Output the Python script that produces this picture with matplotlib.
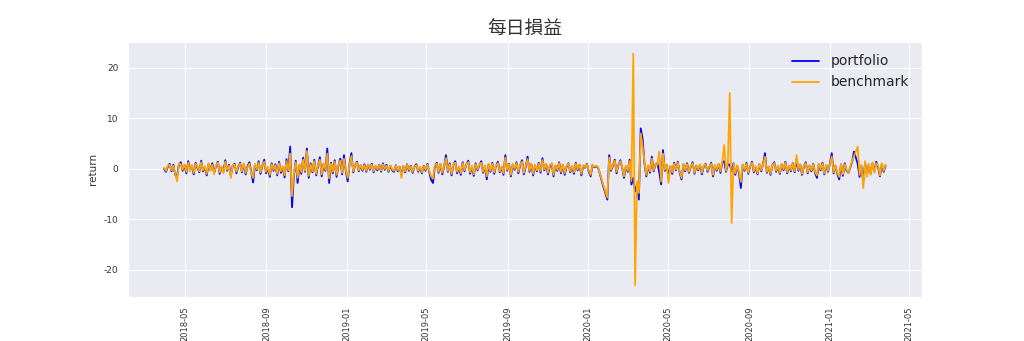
import matplotlib
matplotlib.use("Agg")
import matplotlib.pyplot as plt
import matplotlib.dates as mdates
import seaborn as sns
import pandas as pd

start_date = "2018-03-30"
end_date = "2021-03-26"

portfolio = [
    0.0, -0.6, 0.4, 1.0, -0.5, 0.8, -1.2, -1.5, 0.9, 1.3, -0.4, 0.7, -0.9, 1.5, -0.3, 0.6, -1.1, 1.2, 0.2, -0.7,
    1.6, -0.5, 0.3, -1.3, 0.9, -0.2, 1.1, -0.8, 0.5, 1.4, -1.0, 0.3, -0.6, 1.7, -0.4, 0.8, -1.4, 0.6, 1.0, -0.9,
    0.4, 1.2, -0.7, 0.9, -1.1, 0.5, 1.3, -0.6, -2.7, 0.8, -0.3, 1.5, -1.0, 0.6, 1.8, -0.9, 0.2, -1.6, 1.1, -0.4,
    0.9, -1.3, 1.4, -0.8, 0.3, -1.7, 1.9, -0.5, 4.4, -7.6, -1.2, 1.6, -2.8, 0.7, -1.0, 2.2, -0.6, 4.0, -1.8, 1.1,
    -0.7, 1.8, -1.3, 0.5, 2.3, -1.5, 0.9, -0.4, 4.0, -2.8, 1.2, -0.9, 1.7, -1.6, 0.6, 2.0, -1.1, 2.7, -0.5, -2.5,
    1.0, 3.1, -0.7, 0.6, 1.4, -0.5, 0.7, -0.4, 0.9, -0.6, 0.8, -0.2, 1.0, -0.7, 0.5, -0.3, 0.8, -0.6, 1.1, -0.2,
    0.8, -0.6, 0.6, -0.3, -0.6, 0.7, -0.5, 0.4, -1.2, 0.5, -0.7, 0.9, -0.4, 0.6, -0.8, 0.4, 0.9, -0.6, 0.3, -0.9,
    0.6, -0.4, 1.0, -0.7, -2.2, -2.8, 0.5, 1.2, -0.8, 0.9, -1.1, 0.4, 2.7, -0.6, 1.1, -1.3, 0.8, 1.5, -0.9, 0.3,
    -1.2, 1.3, -0.5, 0.9, 1.6, -1.0, 0.4, -1.4, 1.1, -0.3, 0.7, 1.5, -0.8, 0.5, -2.1, 0.9, -0.6, 1.2, -1.0, 0.6,
    1.4, -0.7, 0.3, -1.2, 2.7, -0.4, 1.0, -1.5, 0.8, -0.2, 1.3, -0.9, 0.6, 1.7, -1.1, 0.4, 2.4, -0.6, 0.9, -1.3,
    0.7, -0.5, 1.2, -0.8, 2.1, -0.3, 0.9, -1.1, 0.5, 1.0, -1.5, 0.6, -0.4, 1.3, -0.9, 0.8, -1.2, 0.4, 1.1, -0.7,
    0.5, -1.0, 1.2, -0.3, 0.8, -1.3, 0.6, 0.2, 1.0, -0.6, -1.5, 0.7, 0.3, 0.5, 0.2, -1.0, -2.4, -3.7, -4.9, -6.1,
    2.7, -0.4, 0.6, 1.8, -0.9, 0.8, 1.7, 0.2, -1.8, 0.5, -0.6, 1.8, -3.1, -1.8, -4.5, -3.2, -6.1, 8.0, 6.0, 1.2,
    -1.5, 0.6, -0.8, 2.4, -0.5, 0.9, 1.1, -0.7, -3.1, 3.7, -0.4, 0.8, -1.6, 0.5, -1.0, 1.2, -0.3, 1.4, -0.8, -2.1,
    0.9, -0.5, 1.1, -0.8, 0.4, 1.3, -1.0, 0.6, -0.3, 0.8, -1.1, 0.5, 1.0, -0.6, 0.3, 1.2, -1.5, 0.7, -0.4, 0.9,
    -0.8, 1.3, 1.5, -0.6, 0.9, 0.8, -0.5, 1.1, -1.2, 0.6, -0.9, -3.8, 0.8, -0.4, 1.2, -1.0, 0.5, 1.4, -0.7, 0.3,
    -1.1, 0.9, -0.5, 1.0, 3.1, -0.8, 0.4, -1.2, 0.7, 1.3, -0.6, 0.5, -1.0, 0.9, -0.3, 1.4, -0.9, 0.6, -0.5, 1.1,
    -0.7, 1.9, -0.4, 0.8, -1.2, 0.5, 1.3, -0.9, 0.6, -0.5, 1.0, -0.8, -1.8, 0.9, -0.3, 1.2, -1.1, 0.7, -0.6, 1.0,
    3.1, -0.9, 0.6, -1.0, -2.1, 0.9, -1.4, 1.1, -0.4, -0.8, 0.3, 1.4, 3.4, 2.2, 1.0, -1.6, 0.5, -2.6, 1.2, -1.3,
    0.8, -0.9, 1.1, -0.5, 1.4, 0.3, -1.5, 0.9, -0.6, 0.6,
]

benchmark = [
    0.2, -0.4, 0.6, 0.8, -0.3, 0.6, -0.9, -2.5, 1.1, 0.9, -0.2, 0.9, -0.6, 1.2, -0.5, 0.8, -0.8, 1.0, 0.4, -0.5,
    1.3, -0.3, 0.5, -1.0, 1.1, -0.4, 0.8, -1.1, 0.7, 1.2, -0.7, 0.5, -0.9, 1.4, -0.2, 0.6, -1.8, 0.8, 0.8, -0.6,
    0.6, 1.0, -0.5, 1.1, -0.8, 0.3, 1.0, -0.9, -1.8, 1.0, -0.1, 1.2, -0.7, 0.8, 1.4, -0.6, 0.4, -1.2, 0.9, -0.2,
    0.7, -1.0, 1.1, -0.5, 0.5, -1.3, 1.5, -0.3, 3.0, -5.4, -0.8, 1.3, -1.8, 0.9, -0.7, 1.8, -0.4, 3.5, -1.4, 0.9,
    -0.5, 1.5, -1.0, 0.7, 1.8, -1.1, 1.1, -0.2, 3.0, -1.9, 1.0, -0.6, 1.4, -1.2, 0.8, 1.6, -0.8, 2.0, -0.3, -1.8,
    0.8, 2.5, -0.5, 0.7, 1.2, -0.3, 0.8, -0.2, 0.7, -0.4, 0.9, 0.0, 0.8, -0.5, 0.6, -0.1, 0.7, -0.4, 0.9, 0.0,
    0.6, -0.4, 0.7, -0.1, -0.4, 0.6, -0.3, 0.5, -1.8, 0.6, -0.5, 0.8, -0.2, 0.5, -0.6, 0.5, 0.7, -0.4, 0.4, -0.7,
    0.5, -0.2, 0.8, -0.5, -1.5, -1.9, 0.7, 1.0, -0.6, 1.0, -0.8, 0.6, 2.1, -0.4, 0.9, -1.0, 1.0, 1.2, -0.6, 0.5,
    -0.9, 1.1, -0.3, 1.0, 1.3, -0.7, 0.6, -1.1, 0.9, -0.1, 0.8, 1.2, -0.6, 0.7, -1.5, 1.0, -0.4, 1.0, -0.7, 0.7,
    1.1, -0.5, 0.5, -0.9, 2.2, -0.2, 0.9, -1.2, 1.0, 0.0, 1.1, -0.6, 0.8, 1.4, -0.8, 0.6, 1.9, -0.4, 1.0, -1.0,
    0.8, -0.3, 1.0, -0.5, 1.7, -0.1, 1.0, -0.8, 0.7, 1.1, -1.2, 0.7, -0.2, 1.1, -0.6, 0.9, -0.9, 0.6, 1.0, -0.5,
    0.6, -0.7, 1.0, -0.1, 0.9, -1.0, 0.7, 0.3, 0.9, -0.4, -1.2, 0.8, 0.4, 0.6, 0.3, -0.9, -2.2, -3.4, -4.6, -5.7,
    2.2, -0.2, 0.7, 1.6, -0.6, 0.9, 1.5, 0.3, -1.5, 0.6, -0.4, 1.5, -2.4, 22.8, -23.0, -2.5, -4.8, 7.0, 4.5, 1.5,
    -1.2, 0.7, -0.5, 2.0, -0.3, 1.0, 0.8, 3.4, -2.5, 3.0, -0.2, 0.9, -2.8, 0.6, -0.7, 1.0, -0.1, 1.2, -0.6, -1.8,
    1.0, -0.3, 0.9, -0.6, 0.5, 1.1, -0.8, 0.7, -0.1, 0.9, -0.8, 0.6, 0.9, -0.4, 0.5, 1.0, -1.2, 0.8, -0.2, 1.0,
    -0.5, 1.5, 4.7, -0.4, 1.2, 15.0, -10.7, 1.0, -0.9, 0.7, -0.6, -2.6, 0.9, -0.2, 1.0, -0.8, 0.6, 1.2, -0.5, 0.5,
    -0.9, 1.0, -0.3, 0.9, 2.4, -0.6, 0.5, -1.0, 0.8, 1.1, -0.4, 0.6, -0.8, 1.0, -0.1, 1.2, -0.7, 0.7, -0.3, 1.0,
    -0.5, 2.7, -0.2, 0.9, -1.0, 0.6, 1.1, -0.7, 0.7, -0.3, 0.9, -0.6, -1.3, 1.0, -0.1, 1.0, -0.9, 0.8, -0.4, 0.9,
    2.4, -0.7, 0.7, -0.8, -1.6, 1.0, -1.1, 0.9, -0.2, -0.8, 0.5, 1.5, 2.5, 3.4, 4.4, -1.2, 0.8, -3.8, 1.5, -1.6,
    1.0, -1.2, 1.3, -0.8, 1.1, 0.6, -1.3, 1.1, -0.4, 0.8,
]

dates = pd.date_range(start_date, end_date, periods=len(portfolio))

sns.set_style("darkgrid")
plt.rcParams["font.family"] = ["DejaVu Sans", "Noto Sans CJK TC"]
plt.rcParams["axes.unicode_minus"] = False

fig, ax = plt.subplots(figsize=(10.24, 3.41), dpi=100)
fig.subplots_adjust(left=0.125, right=0.9, bottom=0.13, top=0.877)

ax.plot(dates, portfolio, color="blue", lw=1.3, label="portfolio")
ax.plot(dates, benchmark, color="orange", lw=1.3, label="benchmark")

ax.set_title("每日損益", fontsize=13.5, color="#333333",
             family=["Noto Sans CJK TC", "DejaVu Sans"])
ax.set_ylabel("return", fontsize=7.5, color="#333333")
ax.xaxis.set_major_locator(mdates.MonthLocator(bymonth=[1, 5, 9]))
ax.xaxis.set_major_formatter(mdates.DateFormatter("%Y-%m"))
ax.tick_params(axis="x", labelrotation=90, labelsize=6, colors="#333333")
ax.tick_params(axis="y", labelsize=6.5, colors="#333333")
ax.set_yticks([-20, -10, 0, 10, 20])
ax.legend(loc="upper right", frameon=False, fontsize=10)

fig.savefig("out.png", dpi=100)
